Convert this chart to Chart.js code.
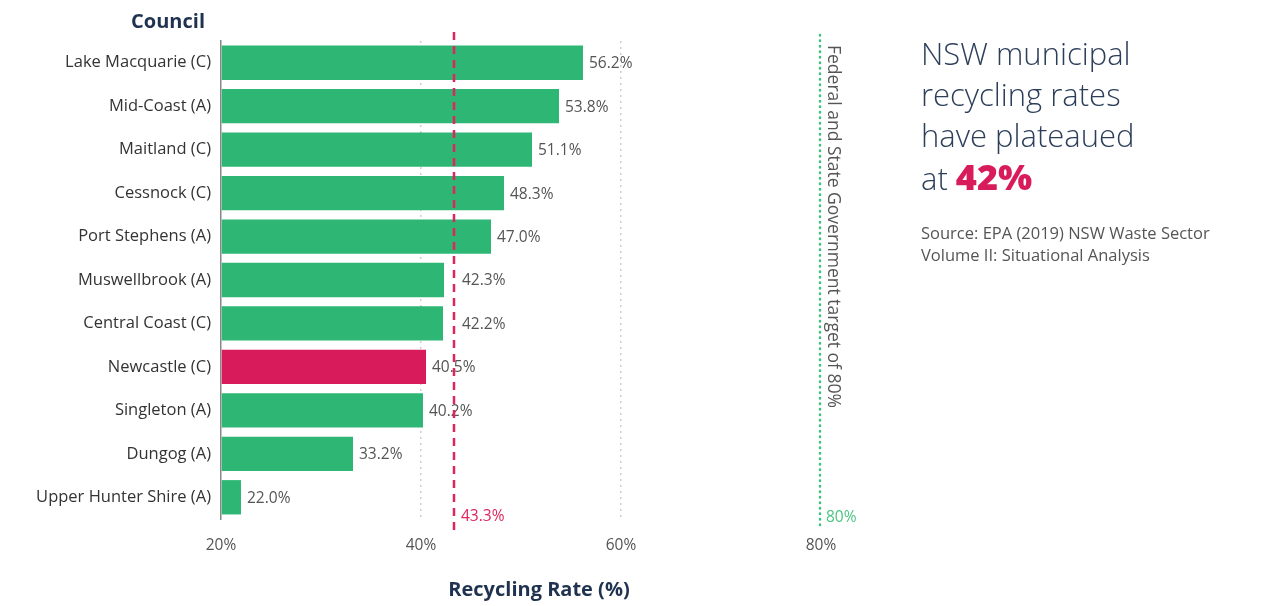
<!DOCTYPE html>
<html>
<head>
<meta charset="utf-8">
<script src="https://cdn.jsdelivr.net/npm/chart.js@4"></script>
<style>
  html, body { margin: 0; padding: 0; background: #fff; }
  #wrap { position: relative; width: 1272px; height: 606px; }
  #chart { position: absolute; left: 0; top: 0; }
  #side { position: absolute; left: 921px; top: 33px; font-family: "Open Sans", sans-serif; color: #2c3e5a; }
  #side .head { font-size: 31px; line-height: 41px; font-weight: 300; }
  #side .head b { color: #d81b5a; font-weight: 800; font-size: 36px; }
  #side .src { margin-top: 23px; font-size: 16.5px; line-height: 22px; color: #555; font-weight: 400; }
</style>
</head>
<body>
<div id="wrap">
  <canvas id="chart" width="1272" height="606"></canvas>
  <div id="side">
    <div class="head">NSW municipal<br>recycling rates<br>have plateaued<br>at <b>42%</b></div>
    <div class="src">Source: EPA (2019) NSW Waste Sector<br>Volume II: Situational Analysis</div>
  </div>
</div>
<script>
  "use strict";

  const COUNCILS = [
    "Lake Macquarie (C)", "Mid-Coast (A)", "Maitland (C)", "Cessnock (C)",
    "Port Stephens (A)", "Muswellbrook (A)", "Central Coast (C)", "Newcastle (C)",
    "Singleton (A)", "Dungog (A)", "Upper Hunter Shire (A)",
  ];
  const RATES = [56.2, 53.8, 51.1, 48.3, 47.0, 42.3, 42.2, 40.5, 40.2, 33.2, 22.0];
  const HIGHLIGHT = "Newcastle (C)";
  const NSW_AVERAGE = 43.3;
  const TARGET = 80;
  const X_TICKS = [20, 40, 60, 80];

  const GREEN = "#2db674";
  const RED = "#d81b5a";
  const NAVY = "#1f3250";
  const FONT = "'Open Sans', sans-serif";

  // value labels, reference lines and titles
  const overlay = {
    id: "overlay",
    afterDatasetsDraw(chart) {
      const { ctx, chartArea: area, scales: { x } } = chart;
      const avgX = x.getPixelForValue(NSW_AVERAGE);
      const tgtX = x.getPixelForValue(TARGET);

      ctx.save();
      // value labels
      ctx.font = "15.5px " + FONT;
      ctx.fillStyle = "#555";
      ctx.textBaseline = "middle";
      ctx.textAlign = "left";
      chart.getDatasetMeta(0).data.forEach((bar, i) => {
        let lx = bar.x + 6;
        if (bar.x < avgX && avgX - bar.x < 16) lx = avgX + 8;
        ctx.fillText(RATES[i].toFixed(1) + "%", lx, bar.y + 1);
      });

      // NSW average line
      ctx.strokeStyle = "#e0245e";
      ctx.lineWidth = 2.5;
      ctx.setLineDash([8, 6]);
      ctx.beginPath();
      ctx.moveTo(avgX, area.top - 9);
      ctx.lineTo(avgX, area.bottom + 11);
      ctx.stroke();
      ctx.fillStyle = "#e0245e";
      ctx.fillText(NSW_AVERAGE.toFixed(1) + "%", avgX + 7, area.bottom - 2);

      // target line
      ctx.strokeStyle = "#3cc47c";
      ctx.lineWidth = 2.5;
      ctx.lineCap = "round";
      ctx.setLineDash([0.5, 5]);
      ctx.beginPath();
      ctx.moveTo(tgtX - 1, area.top - 6);
      ctx.lineTo(tgtX - 1, area.bottom + 6);
      ctx.stroke();
      ctx.setLineDash([]);
      ctx.fillStyle = "#4cc483";
      ctx.fillText(TARGET + "%", tgtX + 5, area.bottom - 1);

      // rotated target caption
      ctx.save();
      ctx.translate(tgtX + 3, area.top + 4);
      ctx.rotate(Math.PI / 2);
      ctx.font = "17.5px " + FONT;
      ctx.fillStyle = "#555";
      ctx.textAlign = "left";
      ctx.textBaseline = "bottom";
      ctx.fillText("Federal and State Government target of " + TARGET + "%", 0, 0);
      ctx.restore();

      // axis titles
      ctx.fillStyle = NAVY;
      ctx.font = "bold 20px " + FONT;
      ctx.textAlign = "right";
      ctx.textBaseline = "middle";
      ctx.fillText("Council", area.left - 16, 22);
      ctx.textAlign = "center";
      ctx.fillText("Recycling Rate (%)", 539, 590);
      ctx.restore();
    },
  };

  new Chart(document.getElementById("chart"), {
    type: "bar",
    data: {
      labels: COUNCILS,
      datasets: [{
        data: RATES,
        backgroundColor: COUNCILS.map(c => (c === HIGHLIGHT ? RED : GREEN)),
        borderWidth: 0,
        categoryPercentage: 0.79,
        barPercentage: 1,
        base: 20,
      }],
    },
    options: {
      indexAxis: "y",
      responsive: false,
      animation: false,
      layout: { padding: { top: 41, right: 451, left: 0, bottom: 0 } },
      plugins: { legend: { display: false }, tooltip: { enabled: false } },
      scales: {
        x: {
          min: 20,
          max: 80,
          afterBuildTicks: s => { s.ticks = X_TICKS.map(v => ({ value: v })); },
          afterFit: s => { s.height = 87; },
          grid: {
            color: c => (c.tick && (c.tick.value === 40 || c.tick.value === 60) ? "#cfcfcf" : "rgba(0,0,0,0)"),
            lineWidth: 1.5,
            drawTicks: true,
            tickLength: 11,
            tickColor: "rgba(0,0,0,0)",
          },
          border: { display: false, dash: [2, 4] },
          ticks: {
            padding: 6,
            color: "#555",
            font: { family: FONT, size: 15.5 },
            callback: v => v + "%",
          },
        },
        y: {
          afterFit: s => { s.width = 221; },
          grid: { display: false },
          border: { display: true, color: "#888", width: 1.5 },
          ticks: {
            padding: 2,
            color: "#333",
            font: { family: FONT, size: 16.5 },
          },
        },
      },
    },
    plugins: [overlay],
  });
</script>
</body>
</html>
